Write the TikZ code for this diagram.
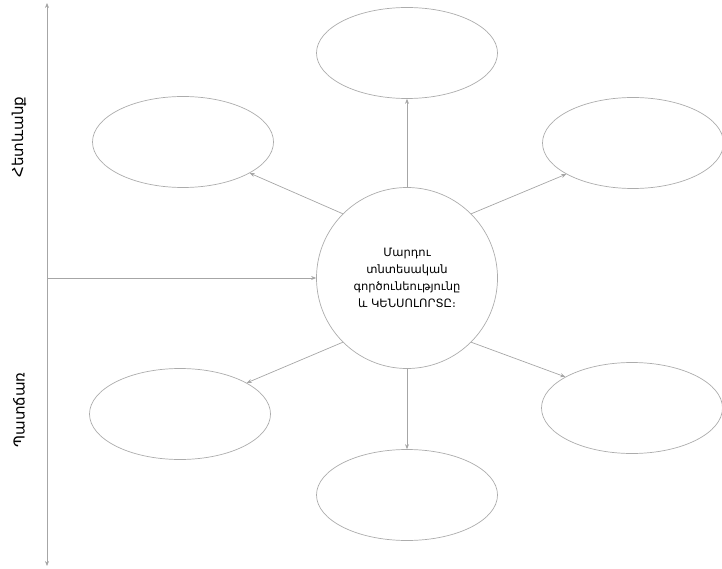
\documentclass[tikz,border=0pt]{standalone}
\usepackage{fontspec}
\usepackage{tikz}
\usetikzlibrary{shapes.geometric,arrows.meta}
\newfontfamily\armfont{DejaVu Sans}

\begin{document}
\begin{tikzpicture}[x=1pt,y=-1pt,
	oval/.style={draw=gray!65,line width=0.7pt,ellipse,minimum width=181pt,minimum height=91pt,inner sep=0pt},
	kor/.style={draw=gray!65,line width=0.7pt,circle,minimum size=181pt,inner sep=0pt,align=center,
		font=\armfont\fontsize{11.5}{17}\selectfont,text=black},
	sl/.style={draw=gray!70,line width=0.7pt,-{Stealth[length=5pt,width=4pt]}},
	koxm/.style={rotate=90,font=\armfont\fontsize{15}{18}\selectfont,text=black}]
	\useasboundingbox (0,0) rectangle (722,569);
	% Կենտրոն
	\node [kor] (kentron) at (407,278) {Մարդու\\տնտեսական\\գործունեությունը\\և ԿԵՆՍՈԼՈՐՏԸ։};
	% Օվալներ
	\foreach \n/\x/\y in {verev/407/53, dzax1/183/142, aj1/633/143, dzax2/180/414, nerqev/407/495, aj2/632/408}
	\node [oval] (\n) at (\x,\y) {};
	% Սլաքներ
	\draw [sl] (kentron.north) -- (verev.south);
	\draw [sl] (kentron.south) -- (nerqev.north);
	\draw [sl] (kentron.135) -- (dzax1.-25);
	\draw [sl] (kentron.45) -- (aj1.-155);
	\draw [sl] (kentron.225) -- (dzax2.25);
	\draw [sl] (kentron.-45) -- (aj2.155);
	% Առանցք
	\coordinate (axverev) at (47,3);
	\coordinate (axnerqev) at (47,566);
	\coordinate (axmej) at (47,278);
	\draw [sl,{Stealth[length=5pt,width=4pt]}-{Stealth[length=5pt,width=4pt]}] (axverev) -- (axnerqev);
	\draw [sl] (axmej) -- (kentron.west);
	\node [koxm] (hetevanq) at (19,137) {Հետևանք};
	\node [koxm] (patchar) at (19,410) {Պատճառ};
\end{tikzpicture}
\end{document}
